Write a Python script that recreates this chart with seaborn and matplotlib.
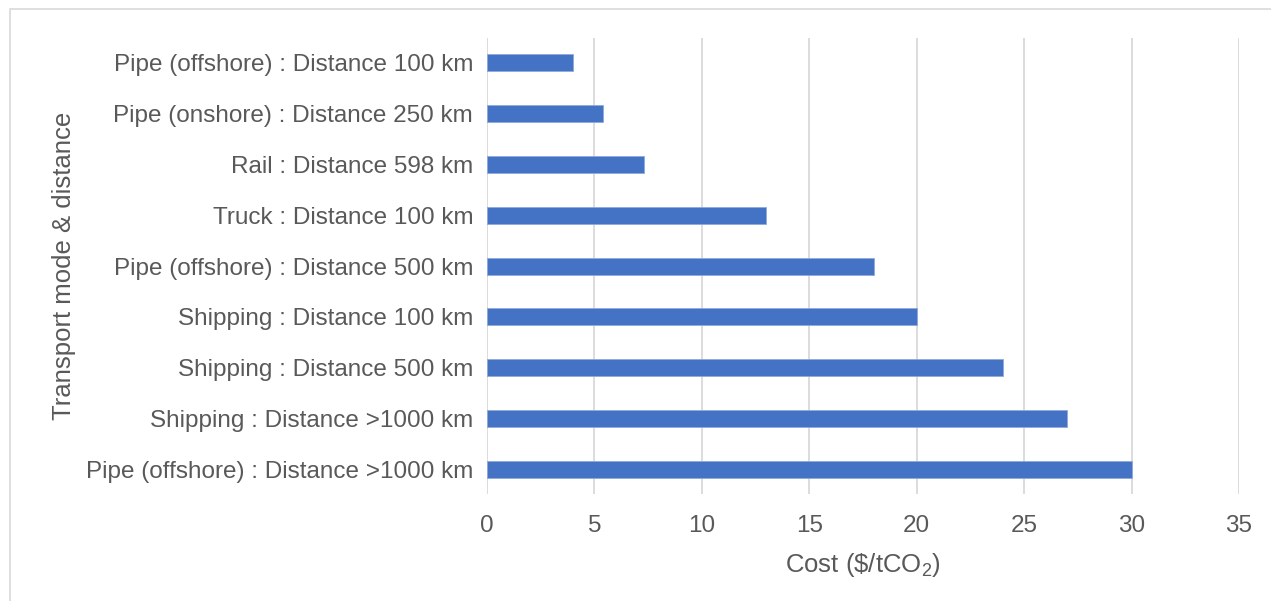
import matplotlib
matplotlib.use("Agg")
import matplotlib.pyplot as plt
import seaborn as sns
import pandas as pd
from matplotlib.patches import Rectangle

categories = [
    "Pipe (offshore) : Distance 100 km",
    "Pipe (onshore) : Distance 250 km",
    "Rail : Distance 598 km",
    "Truck : Distance 100 km",
    "Pipe (offshore) : Distance 500 km",
    "Shipping : Distance 100 km",
    "Shipping : Distance 500 km",
    "Shipping : Distance >1000 km",
    "Pipe (offshore) : Distance >1000 km",
]
costs = [4, 5.4, 7.3, 13, 18, 20, 24, 27, 30]
x_ticks = [0, 5, 10, 15, 20, 25, 30, 35]

sns.set_theme(style="white")
plt.rcParams["font.family"] = ["Liberation Sans", "DejaVu Sans"]
plt.rcParams["mathtext.fontset"] = "custom"
plt.rcParams["mathtext.rm"] = "Liberation Sans"
plt.rcParams["mathtext.default"] = "regular"

TEXT = "#595959"
df = pd.DataFrame({"category": categories, "cost": costs})

fig = plt.figure(figsize=(12.71, 6.01), dpi=100)
ax = fig.add_axes([0.3832, 0.1774, 0.5916, 0.76])
sns.barplot(data=df, x="cost", y="category", color="#4472C4", width=0.335,
            saturation=1, ax=ax, zorder=3, edgecolor="#8EA9DB", linewidth=0.6)

ax.set_xlim(0, 35)
ax.set_xticks(x_ticks)
ax.set_xticklabels([str(t) for t in x_ticks])
ax.grid(axis="x", color="#D9D9D9", linewidth=1.3, zorder=0)
ax.grid(axis="y", visible=False)
for s in ax.spines.values():
    s.set_visible(False)
ax.tick_params(axis="both", length=0, labelsize=17.5, labelcolor=TEXT)
ax.tick_params(axis="x", pad=15)
ax.tick_params(axis="y", pad=10)
ax.set_xlabel("Cost (\\$/tCO$_2$)", fontsize=18.5, color=TEXT, labelpad=10)
ax.set_ylabel("Transport mode & distance", fontsize=18.5, color=TEXT, labelpad=7)

fig.add_artist(Rectangle((10 / 1271, -0.1), 1.2, 1 - 9 / 601 + 0.1,
                         transform=fig.transFigure, fill=False,
                         edgecolor="#D9D9D9", linewidth=1.2))

fig.savefig("out.png", dpi=100)
